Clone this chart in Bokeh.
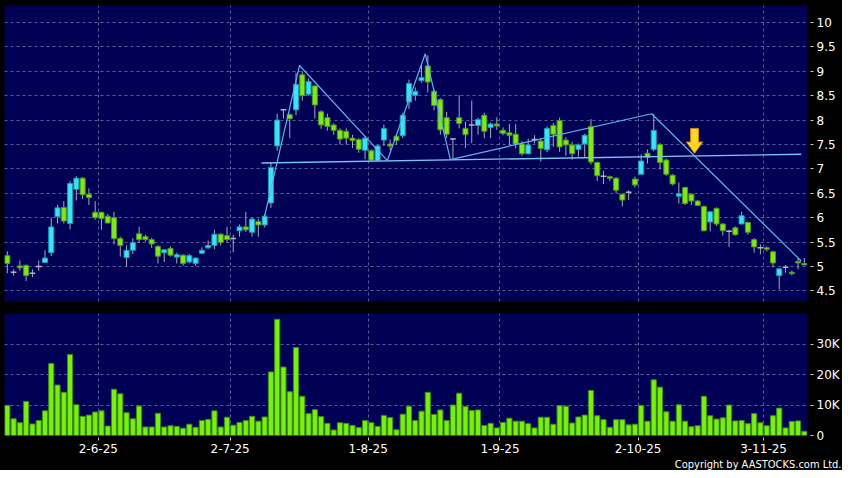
from bokeh.plotting import figure
from bokeh.layouts import column
from bokeh.models import Range1d, FixedTicker, CustomJSTickFormatter, Title
from bokeh.embed import file_html
from bokeh.resources import INLINE

# ---------------- data ----------------
open_ = [5.22, 4.88, 5.01, 5.02, 4.86, 5.00, 5.08, 5.28, 6.02, 6.21,
         5.88, 6.58, 6.81, 6.48, 6.11, 6.11, 6.03, 6.00, 5.57, 5.18,
         5.33, 5.67, 5.61, 5.55, 5.41, 5.28, 5.37, 5.19, 5.23, 5.09,
         5.06, 5.27, 5.38, 5.43, 5.66, 5.63, 5.57, 5.73, 5.81, 5.70,
         5.92, 5.85, 6.30, 7.47, 8.21, 8.11, 8.21, 8.93, 8.53, 8.70,
         8.17, 8.05, 7.90, 7.79, 7.77, 7.63, 7.60, 7.38, 7.37, 7.17,
         7.59, 7.51, 7.67, 7.68, 8.37, 8.51, 8.81, 9.11, 8.59, 8.42,
         8.05, 7.61, 8.05, 7.83, 7.90, 7.89, 8.10, 7.85, 7.92, 7.79,
         7.74, 7.71, 7.51, 7.31, 7.60, 7.57, 7.39, 7.89, 7.99, 7.59,
         7.49, 7.40, 7.51, 7.87, 7.13, 6.85, 6.84, 6.81, 6.48, 6.52,
         6.79, 6.89, 7.32, 7.40, 7.50, 7.18, 6.87, 6.44, 6.62, 6.48,
         6.34, 6.23, 5.91, 6.19, 5.87, 5.72, 5.79, 5.87, 5.90, 5.55,
         5.38, 5.38, 5.30, 4.81, 4.98, 4.88, 5.10, 5.06]
high = [5.31, 4.94, 5.12, 5.04, 4.94, 5.12, 5.33, 6.00, 6.26, 6.34,
        6.75, 6.85, 6.83, 6.60, 6.34, 6.12, 6.08, 6.12, 5.61, 5.43,
        5.58, 5.81, 5.65, 5.58, 5.43, 5.35, 5.41, 5.28, 5.25, 5.26,
        5.18, 5.39, 5.53, 5.75, 5.68, 5.81, 5.65, 5.86, 6.12, 6.00,
        5.98, 6.08, 7.12, 8.13, 8.23, 8.13, 8.97, 9.00, 8.85, 8.71,
        8.20, 8.13, 7.93, 7.83, 7.83, 7.70, 7.63, 7.67, 7.40, 7.49,
        7.91, 7.60, 7.70, 8.15, 8.83, 8.67, 9.13, 9.33, 8.63, 8.45,
        8.17, 7.63, 8.51, 7.97, 8.40, 8.05, 8.15, 7.95, 8.06, 7.85,
        7.92, 7.92, 7.57, 7.62, 7.69, 7.62, 7.87, 7.94, 8.05, 7.65,
        7.55, 7.52, 7.72, 8.02, 7.15, 6.96, 6.86, 6.83, 6.49, 6.56,
        6.84, 7.30, 7.40, 8.13, 7.53, 7.21, 6.89, 6.72, 6.62, 6.49,
        6.36, 6.25, 6.12, 6.21, 5.88, 5.75, 5.82, 6.12, 5.92, 5.58,
        5.45, 5.41, 5.32, 4.96, 5.03, 4.91, 5.16, 5.17]
low = [4.86, 4.81, 4.91, 4.70, 4.78, 4.91, 5.07, 5.21, 5.88, 5.88,
       5.76, 6.35, 6.38, 6.26, 5.96, 5.75, 5.88, 5.45, 5.20, 5.00,
       5.25, 5.48, 5.51, 5.38, 5.06, 5.09, 5.20, 5.06, 5.01, 5.06,
       5.01, 5.25, 5.36, 5.35, 5.43, 5.49, 5.29, 5.61, 5.71, 5.61,
       5.61, 5.80, 6.20, 7.37, 8.03, 7.63, 8.10, 8.40, 8.50, 8.03,
       7.82, 7.78, 7.70, 7.50, 7.50, 7.43, 7.33, 7.20, 7.15, 7.15,
       7.47, 7.38, 7.50, 7.63, 8.23, 8.40, 8.77, 8.57, 8.20, 7.70,
       7.63, 7.21, 7.83, 7.43, 7.53, 7.70, 7.63, 7.63, 7.80, 7.69,
       7.49, 7.42, 7.27, 7.30, 7.52, 7.15, 7.34, 7.45, 7.35, 7.27,
       7.19, 7.25, 7.23, 7.09, 6.75, 6.69, 6.75, 6.50, 6.23, 6.36,
       6.62, 6.88, 7.11, 7.36, 6.99, 6.86, 6.66, 6.29, 6.26, 6.26,
       6.24, 5.72, 5.72, 5.83, 5.63, 5.40, 5.63, 5.86, 5.65, 5.28,
       5.25, 5.31, 4.98, 4.53, 4.87, 4.82, 4.94, 5.03]
close = [5.06, 4.88, 4.97, 4.81, 4.86, 5.00, 5.17, 5.81, 6.20, 5.93,
         6.70, 6.81, 6.47, 6.41, 6.00, 5.98, 5.89, 5.57, 5.43, 5.33,
         5.49, 5.55, 5.55, 5.46, 5.21, 5.34, 5.23, 5.24, 5.06, 5.22,
         5.17, 5.33, 5.43, 5.66, 5.49, 5.55, 5.57, 5.81, 5.75, 5.97,
         5.85, 6.03, 7.03, 8.00, 8.21, 8.03, 8.73, 8.50, 8.79, 8.31,
         7.90, 7.87, 7.79, 7.61, 7.63, 7.58, 7.40, 7.63, 7.18, 7.47,
         7.83, 7.47, 7.58, 8.10, 8.75, 8.59, 8.87, 8.78, 8.30, 7.80,
         7.71, 7.61, 7.93, 7.70, 7.90, 8.01, 7.77, 7.92, 7.88, 7.73,
         7.69, 7.51, 7.31, 7.49, 7.60, 7.42, 7.83, 7.71, 7.45, 7.49,
         7.31, 7.49, 7.69, 7.14, 6.86, 6.85, 6.81, 6.56, 6.36, 6.52,
         6.67, 7.16, 7.24, 7.79, 7.13, 6.89, 6.69, 6.49, 6.29, 6.34,
         6.25, 5.73, 6.12, 5.87, 5.73, 5.72, 5.65, 6.04, 5.70, 5.40,
         5.38, 5.35, 5.07, 4.95, 4.98, 4.85, 5.07, 5.03]
volume_k = [9.9, 5.5, 4.2, 11.2, 3.8, 4.9, 8.1, 23.7, 16.6, 14.2,
            26.6, 10.1, 6.3, 6.7, 7.7, 8.1, 3.1, 15.2, 13.7, 7.5,
            5.5, 9.7, 2.8, 2.8, 7.3, 2.8, 3.2, 3.0, 2.4, 3.7,
            2.7, 4.9, 5.3, 8.1, 2.8, 6.0, 3.4, 4.3, 4.9, 6.3,
            4.7, 6.1, 20.9, 38.2, 22.5, 14.4, 28.9, 12.9, 7.2, 8.5,
            6.2, 4.0, 1.8, 4.2, 4.0, 3.3, 2.6, 4.9, 4.2, 3.0,
            6.6, 5.9, 1.9, 7.0, 9.6, 4.9, 8.0, 14.2, 6.9, 8.4,
            4.9, 10.0, 13.9, 9.5, 8.2, 8.4, 3.3, 4.0, 2.5, 4.3,
            5.7, 4.7, 4.7, 3.9, 2.5, 6.0, 6.0, 3.7, 9.8, 9.6,
            4.1, 6.1, 6.7, 14.8, 6.5, 5.2, 2.7, 5.2, 5.2, 3.5,
            3.7, 9.9, 4.7, 18.3, 15.9, 7.8, 4.7, 10.1, 4.7, 2.9,
            3.2, 12.9, 6.5, 5.4, 5.8, 10.0, 4.8, 4.9, 3.9, 7.2,
            4.2, 3.2, 6.5, 9.0, 2.5, 4.6, 4.8, 1.4]

month_tick_pos = [14.5, 35.5, 57.5, 78.5, 100.5, 120.5]
month_labels = ["2-6-25", "2-7-25", "1-8-25", "1-9-25", "2-10-25", "3-11-25"]
price_ticks = [4.5, 5, 5.5, 6, 6.5, 7, 7.5, 8, 8.5, 9, 9.5, 10]
volume_ticks = [0, 10, 20, 30]

# chart-pattern annotation lines (bar index, price)
pattern_x = [41, 46.56, 60.56, 66.59, 70.6, 102.66, 126.5]
pattern_y = [6.03, 9.12, 7.17, 9.36, 7.19, 8.13, 5.11]
neck_x = [40.5, 126.5]
neck_y = [7.12, 7.30]
arrow_x = 109.5
arrow_top, arrow_neck, arrow_tip = 7.83, 7.55, 7.32

# ---------------- styling ----------------
BG = "#000000"
PANEL = "#000055"
GRID = "#5c5c9c"
UP_FILL, UP_LINE = "#3fe2f4", "#1a9db4"
DN_FILL, DN_LINE = "#7ee622", "#4b9a12"
FLAT = "#b4b4c4"
WICK = "#a8a8bc"
VOL_FILL, VOL_LINE = "#78ee14", "#3e8e0c"
TREND = "#62b2ea"
FONT = "DejaVu Sans"
W = 842

N = len(close)
idx = list(range(N))

body_x, body_top, body_bot, body_fill, body_line = [], [], [], [], []
flat_x, flat_y = [], []
for i in idx:
    o, c = open_[i], close[i]
    if o == c:
        flat_x.append(i)
        flat_y.append(o)
    else:
        body_x.append(i)
        body_top.append(max(o, c))
        body_bot.append(min(o, c))
        body_fill.append(UP_FILL if c > o else DN_FILL)
        body_line.append(UP_LINE if c > o else DN_LINE)

x_rng = Range1d(-0.45, N - 0.5)


def style_common(p):
    p.outline_line_color = None
    p.yaxis.axis_line_color = None
    p.yaxis.major_tick_line_color = "#c8c8c8"
    p.yaxis.major_tick_in = -3
    p.yaxis.major_tick_out = 6
    p.yaxis.minor_tick_line_color = None
    p.yaxis.major_label_text_color = "#ffffff"
    p.yaxis.major_label_text_font = FONT
    p.yaxis.major_label_text_font_size = "12px"
    p.yaxis.major_label_standoff = 3
    for g in (p.xgrid, p.ygrid):
        g.grid_line_color = GRID
        g.grid_line_dash = "3 3"
        g.grid_line_width = 1


# ---------------- price panel ----------------
p1 = figure(width=W, height=313, x_range=x_rng, y_range=Range1d(4.28, 10.35),
            x_axis_location=None, y_axis_location="right",
            output_backend="svg", toolbar_location=None,
            background_fill_color=PANEL, border_fill_color=BG,
            min_border_left=4, min_border_right=34, min_border_top=5, min_border_bottom=12)
style_common(p1)
p1.yaxis.ticker = FixedTicker(ticks=price_ticks)
p1.yaxis.formatter = CustomJSTickFormatter(code="return String(tick);")
p1.ygrid.ticker = FixedTicker(ticks=price_ticks)
p1.xgrid.ticker = FixedTicker(ticks=month_tick_pos)

p1.segment(x0=idx, y0=low, x1=idx, y1=high, line_color=WICK, line_width=1)
p1.vbar(x=body_x, width=0.8, top=body_top, bottom=body_bot,
        fill_color=body_fill, line_color=body_line, line_width=1)
p1.segment(x0=[x - 0.45 for x in flat_x], y0=flat_y, x1=[x + 0.45 for x in flat_x], y1=flat_y,
           line_color=FLAT, line_width=1.5)

p1.line(neck_x, neck_y, line_color="#7cc4f0", line_width=1.3)
p1.line(pattern_x, pattern_y, line_color=TREND, line_width=1.2)

# down arrow
sw, hw = 0.62, 1.3
ax = [arrow_x - sw, arrow_x + sw, arrow_x + sw, arrow_x + hw, arrow_x, arrow_x - hw, arrow_x - sw]
ay = [arrow_top, arrow_top, arrow_neck, arrow_neck, arrow_tip, arrow_neck, arrow_neck]
p1.patch(ax, ay, fill_color="#ffd626", line_color="#d08a10", line_width=1)

# ---------------- volume panel ----------------
p2 = figure(width=W, height=157, x_range=x_rng, y_range=Range1d(0, 40.1),
            y_axis_location="right",
            output_backend="svg", toolbar_location=None,
            background_fill_color=PANEL, border_fill_color=BG,
            min_border_left=4, min_border_right=34, min_border_top=0)
style_common(p2)
p2.yaxis.ticker = FixedTicker(ticks=volume_ticks)
p2.yaxis.formatter = CustomJSTickFormatter(code="return tick == 0 ? '0' : tick + 'K';")
p2.ygrid.ticker = FixedTicker(ticks=volume_ticks)
p2.xaxis.ticker = FixedTicker(ticks=month_tick_pos)
p2.xaxis.formatter = CustomJSTickFormatter(
    args=dict(pos=month_tick_pos, labels=month_labels),
    code="const k = pos.indexOf(tick); return k >= 0 ? labels[k] : '';")
p2.xaxis.axis_line_color = None
p2.xaxis.major_tick_line_color = "#c8c8c8"
p2.xaxis.major_tick_in = -2
p2.xaxis.major_tick_out = 5
p2.xaxis.minor_tick_line_color = None
p2.xaxis.major_label_text_color = "#ffffff"
p2.xaxis.major_label_text_font = FONT
p2.xaxis.major_label_text_font_size = "12px"
p2.xaxis.major_label_standoff = 3

p2.vbar(x=idx, width=0.82, top=volume_k, bottom=0,
        fill_color=VOL_FILL, line_color=VOL_LINE, line_width=1)

p2.add_layout(Title(text="Copyright by AASTOCKS.com Ltd.", align="right",
                    text_color="#ffffff", text_font="DejaVu Sans Condensed",
                    text_font_size="11px", text_font_style="normal",
                    standoff=0, offset=-34), "below")

layout = column(p1, p2, spacing=0)
layout.styles = {"background-color": "#000000"}

open("out.html", "w").write(file_html(layout, INLINE))
